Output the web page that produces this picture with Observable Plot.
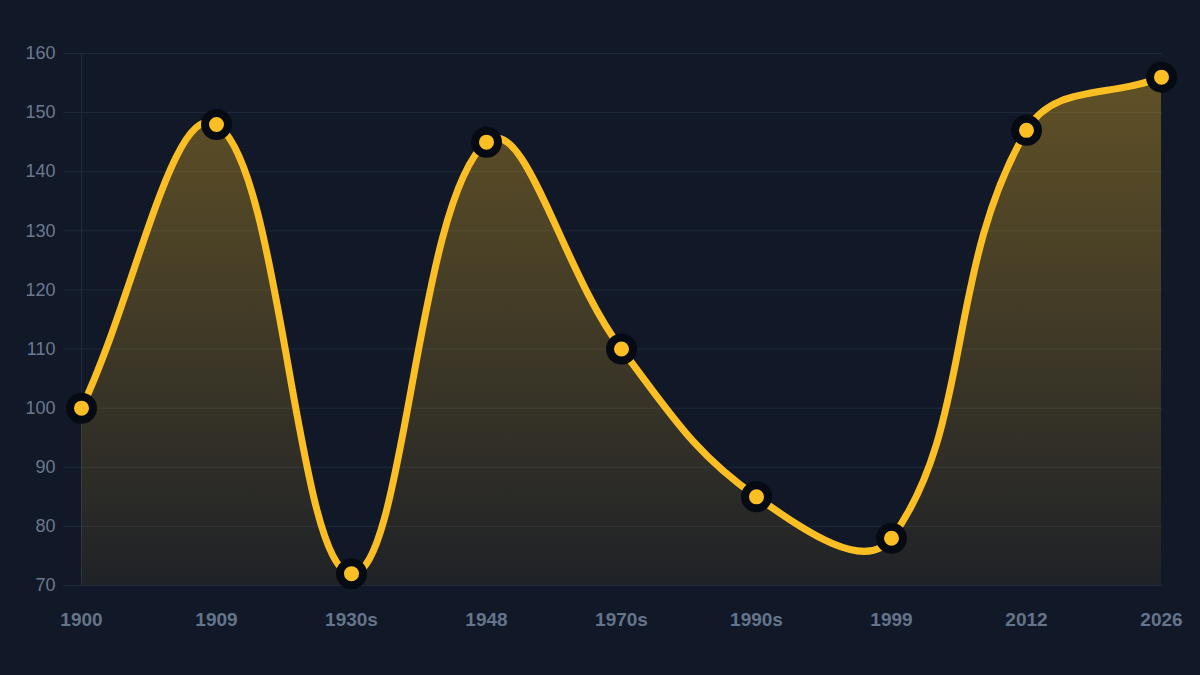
<!DOCTYPE html>
<html>
<head>
<meta charset="utf-8">
<script src="https://cdn.jsdelivr.net/npm/d3@7"></script>
<script src="https://cdn.jsdelivr.net/npm/@observablehq/plot@0.6"></script>
<style>
html, body { margin: 0; padding: 0; background: #111827; }
#chart { width: 1200px; height: 675px; }
</style>
</head>
<body>
<div id="chart"></div>
<script>
const labels = ["1900", "1909", "1930s", "1948", "1970s", "1990s", "1999", "2012", "2026"];
const values = [100, 148, 72, 145, 110, 85, 78, 147, 156];
const yTicks = [70, 80, 90, 100, 110, 120, 130, 140, 150, 160];
const yMin = 70;
const yMax = 160;

const data = labels.map((label, i) => ({label, value: values[i]}));

// Distance-weighted spline (tension 0.4), as a d3 curve factory
function splineCurve(tension) {
  return function(context) {
    let pts = [], line = NaN;
    return {
      areaStart() { line = 0; },
      areaEnd() { line = NaN; },
      lineStart() { pts = []; },
      lineEnd() {
        const n = pts.length;
        if (n) {
          if (line) context.lineTo(pts[0][0], pts[0][1]);
          else context.moveTo(pts[0][0], pts[0][1]);
          const cps = pts.map((cur, i) => {
            const prev = pts[Math.max(i - 1, 0)];
            const next = pts[Math.min(i + 1, n - 1)];
            const d01 = Math.hypot(cur[0] - prev[0], cur[1] - prev[1]);
            const d12 = Math.hypot(next[0] - cur[0], next[1] - cur[1]);
            let s01 = d01 / (d01 + d12), s12 = d12 / (d01 + d12);
            if (isNaN(s01)) s01 = 0;
            if (isNaN(s12)) s12 = 0;
            const fa = tension * s01, fb = tension * s12;
            return {
              prev: [cur[0] - fa * (next[0] - prev[0]), cur[1] - fa * (next[1] - prev[1])],
              next: [cur[0] + fb * (next[0] - prev[0]), cur[1] + fb * (next[1] - prev[1])]
            };
          });
          for (let i = 1; i < n; ++i) {
            const a = cps[i - 1].next, b = cps[i].prev, p = pts[i];
            context.bezierCurveTo(a[0], a[1], b[0], b[1], p[0], p[1]);
          }
        }
        if (line || (line !== 0 && n === 1)) context.closePath();
        line = 1 - line;
      },
      point(x, y) { pts.push([+x, +y]); }
    };
  };
}
const curve = splineCurve(0.4);

const gradientDefs = () => {
  const defs = d3.create("svg:defs");
  const g = defs.append("linearGradient")
    .attr("id", "areaGrad")
    .attr("x1", 0).attr("y1", 0).attr("x2", 0).attr("y2", 1);
  g.append("stop").attr("offset", "0%").attr("stop-color", "#fbbf24").attr("stop-opacity", 0.34);
  g.append("stop").attr("offset", "100%").attr("stop-color", "#fbbf24").attr("stop-opacity", 0.06);
  return defs.node();
};

const chart = Plot.plot({
  width: 1200,
  height: 675,
  marginLeft: 80,
  marginRight: 38,
  marginTop: 53,
  marginBottom: 90,
  style: {background: "#111827", fontFamily: "'Liberation Sans', Arial, sans-serif", overflow: "visible"},
  x: {type: "point", domain: labels, padding: 0, label: null},
  y: {domain: [yMin, yMax], ticks: yTicks, label: null},
  marks: [
    gradientDefs,
    Plot.gridY(yTicks, {stroke: "#1f2a3c", strokeOpacity: 1, strokeWidth: 1}),
    Plot.ruleX([labels[0]], {stroke: "#1f2a3c", strokeWidth: 1}),
    Plot.axisY(yTicks, {
      tickSize: 17, tickPadding: 8, stroke: "#1f2a3c", fill: "#6b7890",
      fontSize: 18, label: null
    }),
    Plot.axisX({
      tickSize: 0, tickPadding: 27, fill: "#64748b", fontSize: 19, fontWeight: "bold", label: null
    }),
    Plot.areaY(data, {x: "label", y1: yMin, y2: "value", curve, fill: "url(#areaGrad)"}),
    Plot.line(data, {x: "label", y: "value", curve, stroke: "#fbbf24", strokeWidth: 7, strokeLinecap: "round"}),
    Plot.dot(data, {x: "label", y: "value", r: 11.5, fill: "#fbbf24", stroke: "#060a13", strokeWidth: 8})
  ]
});

document.getElementById("chart").append(chart);
</script>
</body>
</html>
